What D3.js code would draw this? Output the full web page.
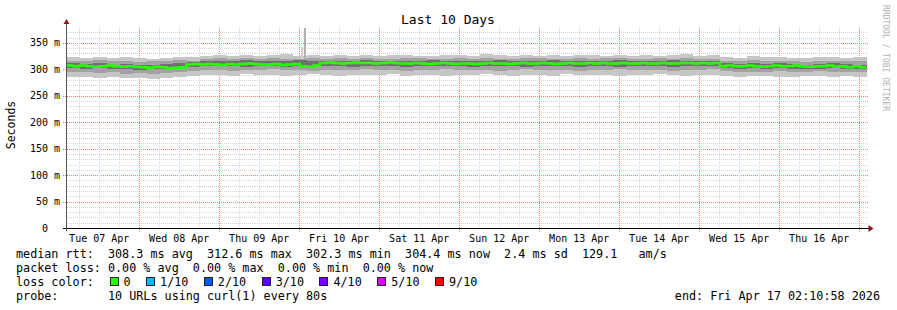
<!DOCTYPE html>
<html>
<head>
<meta charset="utf-8">
<style>
    * { margin: 0; padding: 0; }
    body { background: #fff; }
    svg text { font-family: "DejaVu Sans Mono", monospace; }
</style>
<script src="https://cdn.jsdelivr.net/npm/d3@7/dist/d3.min.js"></script>
</head>
<body>
<script>

    /////////////////////////////////////////////////////
    // DATA
    /////////////////////////////////////////////////////

    const startTime = "2026-04-07T02:10:58Z"
    const endTime = "2026-04-17T02:10:58Z"

    //median rtt, one value every 2 hours (ms)
    const median = [
        307, 306, 307, 306, 305, 306, 307, 306, 305, 306, 305,
        304, 303, 305, 304, 302, 303, 304,
        309, 310, 309, 310, 309, 308, 310, 309, 310, 311, 310, 309, 309, 310, 308, 309, 310,
        306, 305, 307,
        312, 313, 312, 311, 312, 313, 312, 312, 311, 312,
        313, 312, 311, 311, 312, 311, 310, 311, 312, 311,
        310, 311, 311, 310, 311, 312, 311, 311, 310, 311,
        312, 311, 311, 312, 311, 310, 311, 312, 311, 311,
        312, 311, 312, 311, 311, 312, 311, 311, 312, 311,
        311, 312, 311, 311, 312, 312, 311, 312, 311, 312,
        306, 307, 306, 306, 307, 306, 305, 306, 307, 306,
        306, 307, 306, 305, 306, 306, 307, 305, 306, 304, 306, 304
    ]

    //smoke, one value every 4 hours (ms)
    const outerHi = [
        323, 322, 324, 321, 323, 322, 320, 322, 324, 323,
        326, 327, 325, 328, 326, 327, 329, 326, 327, 325,
        328, 326, 327, 326, 328, 327, 325, 326, 328, 327,
        326, 329, 327, 326, 328, 325, 327, 326, 328, 327,
        326, 327, 325, 328, 326, 327, 329, 326, 327,
        324, 322, 325, 323, 324, 322, 321, 324, 323, 322, 323
    ]
    const outerLo = [
        286, 285, 284, 286, 283, 284, 282, 283, 285, 287,
        290, 289, 288, 291, 289, 290, 288, 289, 291, 290,
        288, 289, 290, 289, 291, 288, 290, 289, 288, 290,
        289, 291, 290, 288, 289, 290, 288, 291, 289, 290,
        289, 288, 290, 289, 291, 290, 288, 289, 290,
        287, 286, 288, 287, 285, 286, 287, 288, 286, 287, 286
    ]
    const midHi = [
        316, 315, 317, 315, 316, 314, 315, 316, 317, 316,
        320, 321, 319, 322, 320, 321, 320, 319, 321, 320,
        322, 320, 321, 319, 320, 321, 322, 320, 319, 321,
        320, 321, 319, 320, 322, 321, 320, 319, 321, 320,
        321, 322, 320, 319, 321, 320, 321, 320, 319,
        316, 315, 317, 316, 315, 316, 314, 316, 315, 316, 315
    ]
    const midLo = [
        295, 294, 293, 294, 292, 293, 292, 293, 294, 296,
        299, 298, 297, 299, 298, 300, 299, 298, 297, 299,
        298, 299, 300, 298, 299, 297, 298, 299, 300, 298,
        299, 298, 297, 299, 300, 298, 299, 298, 297, 299,
        298, 300, 299, 298, 299, 297, 298, 299, 300,
        296, 295, 294, 295, 296, 294, 295, 296, 295, 294, 295
    ]
    const innerHi = [
        311, 310, 311, 309, 310, 308, 309, 310, 312, 313,
        315, 316, 315, 317, 316, 315, 316, 317, 315, 316,
        315, 316, 317, 315, 316, 315, 316, 317, 316, 315,
        316, 315, 317, 316, 315, 316, 317, 315, 316, 316,
        315, 317, 316, 315, 316, 317, 316, 315, 316,
        311, 310, 311, 310, 311, 310, 309, 310, 311, 310, 309
    ]
    const innerLo = [
        302, 301, 302, 300, 301, 299, 300, 301, 303, 304,
        306, 307, 306, 305, 307, 306, 305, 307, 306, 307,
        306, 305, 306, 307, 306, 305, 307, 306, 307, 306,
        305, 306, 307, 306, 305, 307, 306, 306, 305, 307,
        306, 305, 306, 307, 306, 305, 306, 307, 306,
        302, 301, 302, 301, 302, 301, 300, 301, 302, 301, 300
    ]

    //single outlier spike
    const spikeTimes = ["2026-04-10T00:40:00Z", "2026-04-10T01:20:00Z"]
    const spikeHi = [343, 378]

    const yTicks = [0, 50, 100, 150, 200, 250, 300, 350]
    const yTickLabels = ["0", "50 m", "100 m", "150 m", "200 m", "250 m", "300 m", "350 m"]

    const dayDates = ["2026-04-07", "2026-04-08", "2026-04-09", "2026-04-10", "2026-04-11",
        "2026-04-12", "2026-04-13", "2026-04-14", "2026-04-15", "2026-04-16"]
    const dayLabels = ["Tue 07 Apr", "Wed 08 Apr", "Thu 09 Apr", "Fri 10 Apr", "Sat 11 Apr",
        "Sun 12 Apr", "Mon 13 Apr", "Tue 14 Apr", "Wed 15 Apr", "Thu 16 Apr"]

    const lossLabels = ["0", "1/10", "2/10", "3/10", "4/10", "5/10", "9/10"]
    const lossColors = ["#26ff00", "#00b8ff", "#0059ff", "#5e00ff", "#7e00ff", "#dd00ff", "#ff0000"]

    const legendLines = [
        "median rtt:  308.3 ms avg  312.6 ms max  302.3 ms min  304.4 ms now  2.4 ms sd  129.1   am/s",
        "packet loss: 0.00 % avg  0.00 % max  0.00 % min  0.00 % now",
        "loss color:",
        "probe:       10 URLs using curl(1) every 80s"
    ]
    const endLabel = "end: Fri Apr 17 02:10:58 2026"

    /////////////////////////////////////////////////////
    // SETUP
    /////////////////////////////////////////////////////

    const width = 897
    const height = 310
    const plotLeft = 66.5, plotRight = 866.5
    const plotBottom = 228, plotTop = 27
    const legendSize = 11.75
    const cw = legendSize * 0.602 //width of one legend character
    const nb = s => s.replace(/ /g, "\u00a0") //keep runs of spaces

    const t0 = new Date(startTime), t1 = new Date(endTime)
    const x = d3.scaleUtc().domain([t0, t1]).range([plotLeft, plotRight])
    const y = d3.scaleLinear().domain([0, 380]).range([plotBottom, plotTop])

    const svg = d3.select("body").append("svg")
        .attr("width", width)
        .attr("height", height)

    //grid
    const grid = svg.append("g").attr("shape-rendering", "crispEdges")
    d3.range(10, 380, 10).filter(v => v % 50 !== 0).forEach(v => {
        grid.append("line")
            .attr("x1", plotLeft).attr("x2", plotRight + 2)
            .attr("y1", Math.round(y(v)) + 0.5).attr("y2", Math.round(y(v)) + 0.5)
            .attr("stroke", "#d6d6d6").attr("stroke-dasharray", "1,1")
    })
    yTicks.forEach(v => {
        grid.append("line")
            .attr("x1", plotLeft - 4).attr("x2", plotRight + 2)
            .attr("y1", Math.round(y(v)) + 0.5).attr("y2", Math.round(y(v)) + 0.5)
            .attr("stroke", "#ff7878").attr("stroke-dasharray", "1,1")
    })
    d3.utcHour.every(6).range(t0, t1).forEach(t => {
        const major = t.getUTCHours() === 0
        grid.append("line")
            .attr("x1", Math.round(x(t)) + 0.5).attr("x2", Math.round(x(t)) + 0.5)
            .attr("y1", major ? plotBottom + 4 : plotBottom).attr("y2", plotTop - 1)
            .attr("stroke", major ? "#ff7878" : "#d6d6d6").attr("stroke-dasharray", "1,1")
    })

    /////////////////////////////////////////////////////
    // SMOKE AND MEDIAN
    /////////////////////////////////////////////////////

    const step4 = 4 * 3600 * 1000, step2 = 2 * 3600 * 1000
    const smoke = outerHi.map((d, i) => ({
        t: new Date(+t0 + i * step4),
        oh: outerHi[i], ol: outerLo[i], mh: midHi[i], ml: midLo[i], ih: innerHi[i], il: innerLo[i]
    }))
    smoke.push(Object.assign({}, smoke[smoke.length - 1], { t: t1 }))

    const band = (lo, hi) => d3.area()
        .x(d => x(d.t)).y0(d => y(d[lo])).y1(d => y(d[hi]))
        .curve(d3.curveStepAfter)

    const smokeG = svg.append("g").attr("shape-rendering", "crispEdges")
    smokeG.append("path").attr("d", band("ol", "oh")(smoke)).attr("fill", "#c6c6c6")
    smokeG.append("path").attr("d", band("ml", "mh")(smoke)).attr("fill", "#a2a2a2")
    smokeG.append("path").attr("d", band("il", "ih")(smoke)).attr("fill", "#707070")

    spikeTimes.forEach((s, i) => {
        smokeG.append("rect")
            .attr("x", Math.round(x(new Date(s))))
            .attr("width", 2)
            .attr("y", y(spikeHi[i]))
            .attr("height", y(320) - y(spikeHi[i]))
            .attr("fill", i === 0 ? "#d0d0d0" : "#b0b0b0")
    })

    const medData = median.map((v, i) => ({ t: new Date(+t0 + i * step2), v: v }))
    medData.push({ t: t1, v: median[median.length - 1] })
    const medLine = d3.line().x(d => x(d.t)).y(d => y(d.v)).curve(d3.curveStepAfter)
    svg.append("path")
        .attr("d", medLine(medData))
        .attr("fill", "none")
        .attr("stroke", lossColors[0])
        .attr("stroke-width", 2.5)

    /////////////////////////////////////////////////////
    // AXES
    /////////////////////////////////////////////////////

    const axisG = svg.append("g").attr("shape-rendering", "crispEdges")
    axisG.append("line")
        .attr("x1", plotLeft - 4).attr("x2", plotRight + 2)
        .attr("y1", plotBottom + 0.5).attr("y2", plotBottom + 0.5)
        .attr("stroke", "#000")
    axisG.append("line")
        .attr("x1", plotLeft).attr("x2", plotLeft)
        .attr("y1", plotBottom + 3).attr("y2", plotTop - 4)
        .attr("stroke", "#555")
    svg.append("path")
        .attr("d", `M${plotLeft - 3},${plotTop - 3}L${plotLeft + 3},${plotTop - 3}L${plotLeft},${plotTop - 8}Z`)
        .attr("fill", "#8b1a1a")
    svg.append("path")
        .attr("d", `M${plotRight + 2},${plotBottom - 3}L${plotRight + 2},${plotBottom + 4}L${plotRight + 7},${plotBottom + 0.5}Z`)
        .attr("fill", "#8b1a1a")

    svg.append("g").selectAll("text")
        .data(yTicks)
        .join("text")
        .attr("x", (d, i) => yTickLabels[i] === "0" ? 48 : 60)
        .attr("y", d => y(d) + 3.5)
        .attr("text-anchor", "end")
        .attr("font-size", 10)
        .attr("fill", "#000")
        .text((d, i) => yTickLabels[i])

    svg.append("g").selectAll("text")
        .data(dayDates)
        .join("text")
        .attr("x", d => x(d3.utcHour.offset(new Date(d + "T00:00:00Z"), 12)))
        .attr("y", 241.5)
        .attr("text-anchor", "middle")
        .attr("font-size", 10)
        .attr("fill", "#000")
        .text((d, i) => dayLabels[i])

    //titles
    svg.append("text")
        .attr("x", 448).attr("y", 24)
        .attr("text-anchor", "middle")
        .attr("font-size", 13)
        .text("Last 10 Days")

    svg.append("text")
        .attr("transform", "translate(14.5,125) rotate(-90)")
        .attr("text-anchor", "middle")
        .attr("font-size", 11.5)
        .text("Seconds")

    svg.append("text")
        .attr("transform", "translate(883,5) rotate(90)")
        .attr("font-size", 8)
        .attr("fill", "#b0b0b0")
        .text("RRDTOOL / TOBI OETIKER")

    /////////////////////////////////////////////////////
    // LEGEND
    /////////////////////////////////////////////////////

    const legend = svg.append("g").attr("font-size", legendSize).attr("fill", "#000")
    legendLines.forEach((line, i) => {
        legend.append("text")
            .attr("x", 16).attr("y", 258 + i * 14)
            .text(nb(line))
    })

    //loss colour boxes, each followed by its label
    let textX = 123.5
    lossLabels.forEach((lab, i) => {
        legend.append("rect")
            .attr("x", Math.round(textX - 14) + 0.5).attr("y", 277.5)
            .attr("width", 8).attr("height", 8)
            .attr("fill", lossColors[i])
            .attr("stroke", "#222").attr("stroke-width", 1)
            .attr("shape-rendering", "crispEdges")
        legend.append("text")
            .attr("x", textX).attr("y", 286)
            .text(lab)
        textX += lab.length * cw + 29.5
    })

    legend.append("text")
        .attr("x", 880).attr("y", 300)
        .attr("text-anchor", "end")
        .text(nb(endLabel))

</script>
</body>
</html>
